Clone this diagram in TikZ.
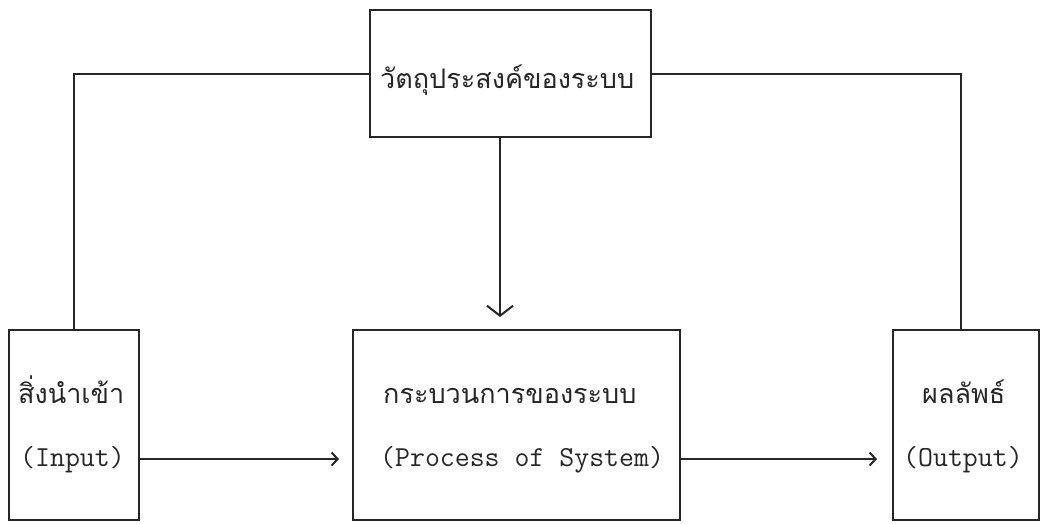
\documentclass[tikz,border=0pt]{standalone}
\usepackage{fontspec}
\newfontfamily\thaifnt[Script=Thai]{Loma}
\usetikzlibrary{arrows.meta}
\newcommand\latfnt{\ttfamily\fontsize{29}{32}\selectfont\addfontfeatures{FakeBold=0.8}}
\newcommand\thfnt{\thaifnt\fontsize{27}{32}\selectfont}
\begin{document}
\begin{tikzpicture}[x=1pt,y=-1pt,
  box/.style={draw=black!85, line width=2pt, inner sep=0pt},
  lat/.style={anchor=base west, inner sep=0pt, font=\latfnt, text=black!85},
  th/.style={anchor=base west, inner sep=0pt, font=\thfnt, text=black!85},
  conn/.style={draw=black!85, line width=2pt},
  bigtip/.style={-{Straight Barb[length=10pt,width=26pt]}},
  smalltip/.style={-{Straight Barb[length=6pt,width=13pt]}}]
\useasboundingbox (0,0) rectangle (1041,523);
% boxes
\node[box, minimum width=281pt, minimum height=127pt] (goal) at (510.5,73.5) {};
\node[box, minimum width=130pt, minimum height=190pt] (inbox) at (74,425) {};
\node[box, minimum width=327pt, minimum height=190pt] (procbox) at (516.5,425) {};
\node[box, minimum width=146pt, minimum height=190pt] (outbox) at (966,425) {};
% texts
\node[th] (goaltxt) at (380,88) {วัตถุประสงค์ของระบบ};
\node[th] (t1) at (18,403) {สิ่งนำเข้า};
\node[lat] (t2) at (20,466) {(Input)};
\node[th] (t3) at (383,403) {กระบวนการของระบบ};
\node[lat] (t4) at (380,466) {(Process of System)};
\node[th] (t5) at (922,403) {ผลลัพธ์};
\node[lat] (t6) at (903,466) {(Output)};
% helper coordinates
\coordinate (dn) at (500,0);
\coordinate (ay) at (0,459);
\coordinate (rx) at (961,0);
% connectors
\draw[conn] (goal.west) -| (inbox.north);
\draw[conn] (goal.east) -| (outbox.north -| rx);
\draw[conn, bigtip] (goal.south -| dn) -- ([yshift=12pt]procbox.north -| dn);
\draw[conn, smalltip] (inbox.east |- ay) -- ([xshift=-13pt]procbox.west |- ay);
\draw[conn, smalltip] (procbox.east |- ay) -- ([xshift=-15pt]outbox.west |- ay);
\end{tikzpicture}
\end{document}
